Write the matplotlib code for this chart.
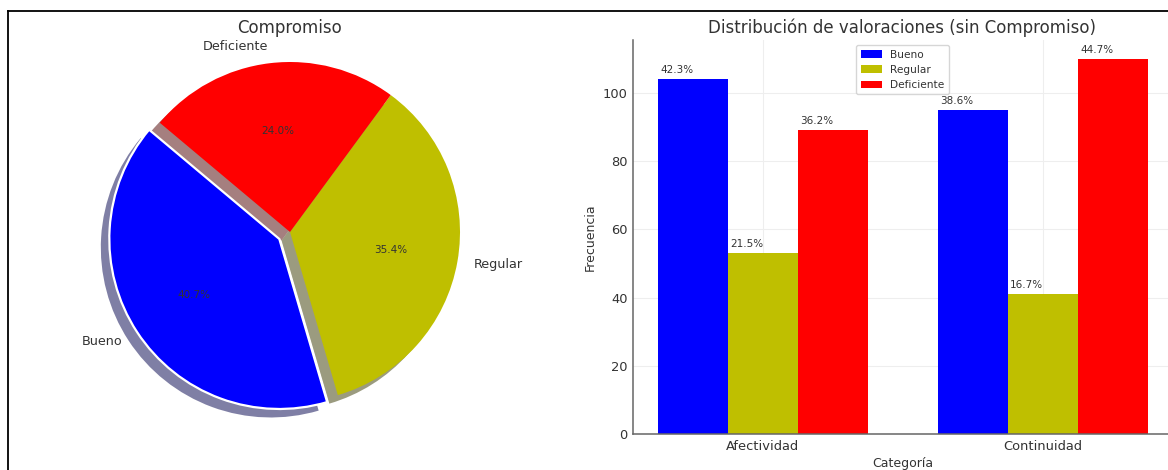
import matplotlib
matplotlib.use("Agg")
import matplotlib.pyplot as plt
from matplotlib.lines import Line2D
from matplotlib.patches import Shadow
import numpy as np

# Compromiso (pie)
pie_labels = ["Bueno", "Regular", "Deficiente"]
pie_counts = [100, 87, 59]
pie_colors = ["#0000ff", "#bfbf00", "#ff0000"]

# Afectividad / Continuidad (grouped bars)
categorias = ["Afectividad", "Continuidad"]
bueno = [104, 95]
regular = [53, 41]
deficiente = [89, 110]

plt.rcParams["font.family"] = "DejaVu Sans"
plt.rcParams["text.color"] = "#333333"
plt.rcParams["axes.labelcolor"] = "#333333"
plt.rcParams["xtick.color"] = "#333333"
plt.rcParams["ytick.color"] = "#333333"

fig = plt.figure(figsize=(11.68, 4.70), dpi=100)
W, H = 1168, 470

# pie axes: square, centre (290, 232) px, radius 170 px
lim = 1.12
side = 2 * lim * 170
ax1 = fig.add_axes([(290 - side / 2) / W, (H - 232 - side / 2) / H, side / W, side / H])
wedges, texts, autotexts = ax1.pie(
    pie_counts, labels=pie_labels, colors=pie_colors, autopct="%1.1f%%",
    startangle=140, explode=(0.075, 0, 0),
    shadow={"ox": -0.036, "oy": -0.036},
    textprops={"fontsize": 9.2, "color": "#333333"},
)
for t in autotexts:
    t.set_fontsize(7.5)
    t.set_color("#333333")
for p in ax1.patches:
    if isinstance(p, Shadow):
        p.set_linewidth(0)
wedges[0].set_edgecolor("white")
wedges[0].set_linewidth(1.6)
ax1.set_xlim(-lim, lim)
ax1.set_ylim(-lim, lim)
ax1.set_title("Compromiso", fontsize=12, pad=6)

# grouped bar chart
ax2 = fig.add_axes([633 / W, 36 / H, (1172 - 633) / W, (434 - 40) / H])
x = np.arange(len(categorias))
w = 0.25
series = [("Bueno", bueno, "#0000ff"), ("Regular", regular, "#bfbf00"),
          ("Deficiente", deficiente, "#ff0000")]
totals = np.array(bueno) + np.array(regular) + np.array(deficiente)
for i, (name, vals, col) in enumerate(series):
    bars = ax2.bar(x + (i - 1) * w, vals, w, label=name, color=col)
    for b, v, tot in zip(bars, vals, totals):
        ax2.text(b.get_x() + 0.01, v + 1.2, f"{v / tot * 100:.1f}%",
                 ha="left", va="bottom", fontsize=7.5, color="#333333")

ax2.set_title("Distribución de valoraciones (sin Compromiso)", fontsize=12, pad=5)
ax2.set_xlabel("Categoría", fontsize=9, labelpad=3)
ax2.set_ylabel("Frecuencia", fontsize=9)
ax2.set_xticks(x)
ax2.set_xticklabels(categorias)
ax2.tick_params(axis="both", length=0, labelsize=9.4, pad=4)
ax2.set_yticks([0, 20, 40, 60, 80, 100])
ax2.grid(True, color="#eeeeee", linewidth=0.8)
ax2.set_axisbelow(True)
for s in ["top", "right"]:
    ax2.spines[s].set_visible(False)
for s in ["left", "bottom"]:
    ax2.spines[s].set_color("#666666")
    ax2.spines[s].set_linewidth(1.1)
ax2.legend(loc="upper center", fontsize=7.6)

# outer frame lines (left and top)
fig.add_artist(Line2D([8 / W, 8 / W], [0, (H - 11) / H], color="black", lw=1.3,
                      transform=fig.transFigure))
fig.add_artist(Line2D([8 / W, 1], [(H - 11) / H, (H - 11) / H], color="black", lw=1.3,
                      transform=fig.transFigure))

fig.savefig("out.png", dpi=100)
